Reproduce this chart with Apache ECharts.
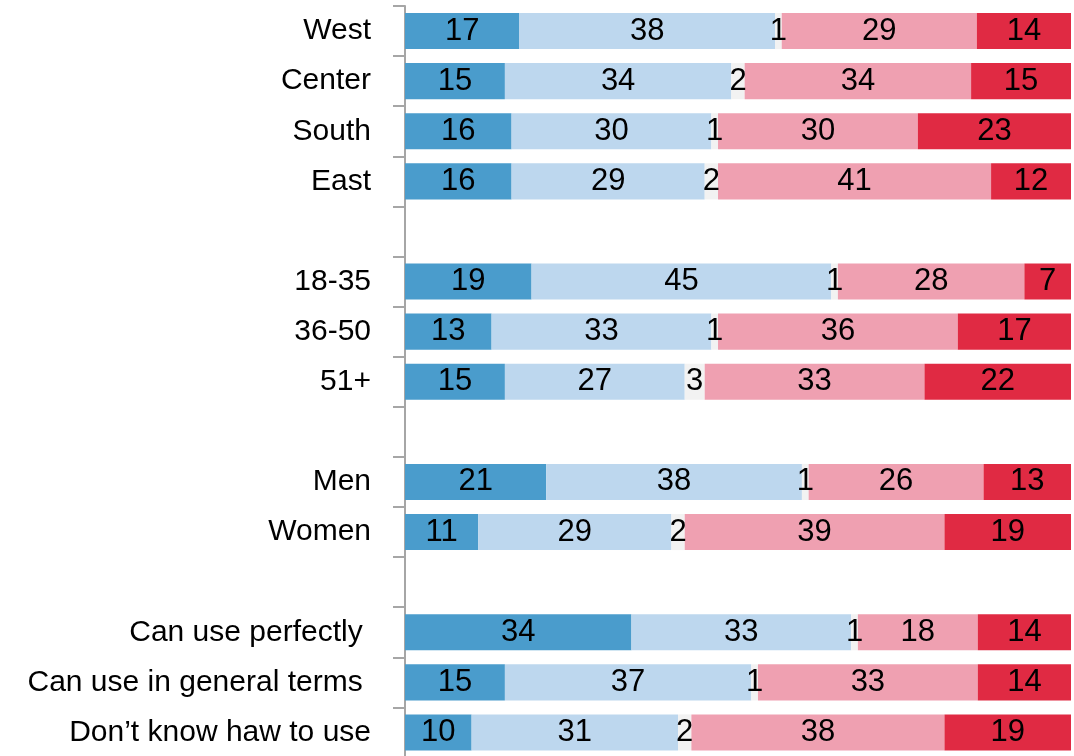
<!DOCTYPE html>
<html>
<head>
<meta charset="utf-8">
<script src="https://cdn.jsdelivr.net/npm/echarts@6/dist/echarts.min.js"></script>
<style>
html,body{margin:0;padding:0;background:#fff;}
#chart{width:1074px;height:756px;}
</style>
</head>
<body>
<div id="chart"></div>
<script>
// Row labels (blank rows separate the groups)
const categories = ['West', 'Center', 'South', 'East', ' ',
  '18-35', '36-50', '51+', '  ',
  'Men', 'Women', '   ',
  'Can use perfectly ', 'Can use in general terms ', 'Don\u2019t know haw to use'];

// Segment values per row (null = blank separator row)
const seg1 = [17, 15, 16, 16, null, 19, 13, 15, null, 21, 11, null, 34, 15, 10];
const seg2 = [38, 34, 30, 29, null, 45, 33, 27, null, 38, 29, null, 33, 37, 31];
const seg3 = [1, 2, 1, 2, null, 1, 1, 3, null, 1, 2, null, 1, 1, 2];
const seg4 = [29, 34, 30, 41, null, 28, 36, 33, null, 26, 39, null, 18, 33, 38];
const seg5 = [14, 15, 23, 12, null, 7, 17, 22, null, 13, 19, null, 14, 14, 19];

const segments = [seg1, seg2, seg3, seg4, seg5];
const colors = ['#4A9CCC', '#BDD7EE', '#F2F2F2', '#EFA0B1', '#E02A43'];
const FONT = '"Liberation Sans", Arial, sans-serif';

// Row totals for 100% stacking
const totals = categories.map((c, i) => {
  let s = 0;
  segments.forEach(arr => { if (arr[i] != null) s += arr[i]; });
  return s;
});

const series = segments.map((arr, k) => ({
  type: 'bar',
  stack: 'total',
  barCategoryGap: '28%',
  itemStyle: { color: colors[k] },
  label: {
    show: true,
    position: 'inside',
    color: '#000',
    fontSize: 31,
    fontFamily: FONT,
    padding: [4, 0, 0, 0],
    formatter: p => (p.data && p.data.raw != null) ? String(p.data.raw) : ''
  },
  data: arr.map((v, i) => v == null ? { value: null, raw: null } : { value: v / totals[i] * 100, raw: v })
}));

const chart = echarts.init(document.getElementById('chart'), null, { renderer: 'canvas' });
chart.setOption({
  animation: false,
  grid: { left: 405, right: 3, top: 6, height: 751.5, containLabel: false, outerBoundsMode: 'none' },
  xAxis: {
    type: 'value',
    min: 0, max: 100,
    show: false
  },
  yAxis: {
    type: 'category',
    inverse: true,
    data: categories,
    axisLine: { show: true, lineStyle: { color: '#A6A6A6', width: 2 } },
    axisTick: { show: true, length: 12, lineStyle: { color: '#A6A6A6', width: 2 } },
    axisLabel: {
      margin: 34,
      color: '#000',
      fontSize: 30,
      fontFamily: FONT,
      padding: [4, 0, 0, 0],
      interval: 0
    }
  },
  series: series
});
</script>
</body>
</html>
